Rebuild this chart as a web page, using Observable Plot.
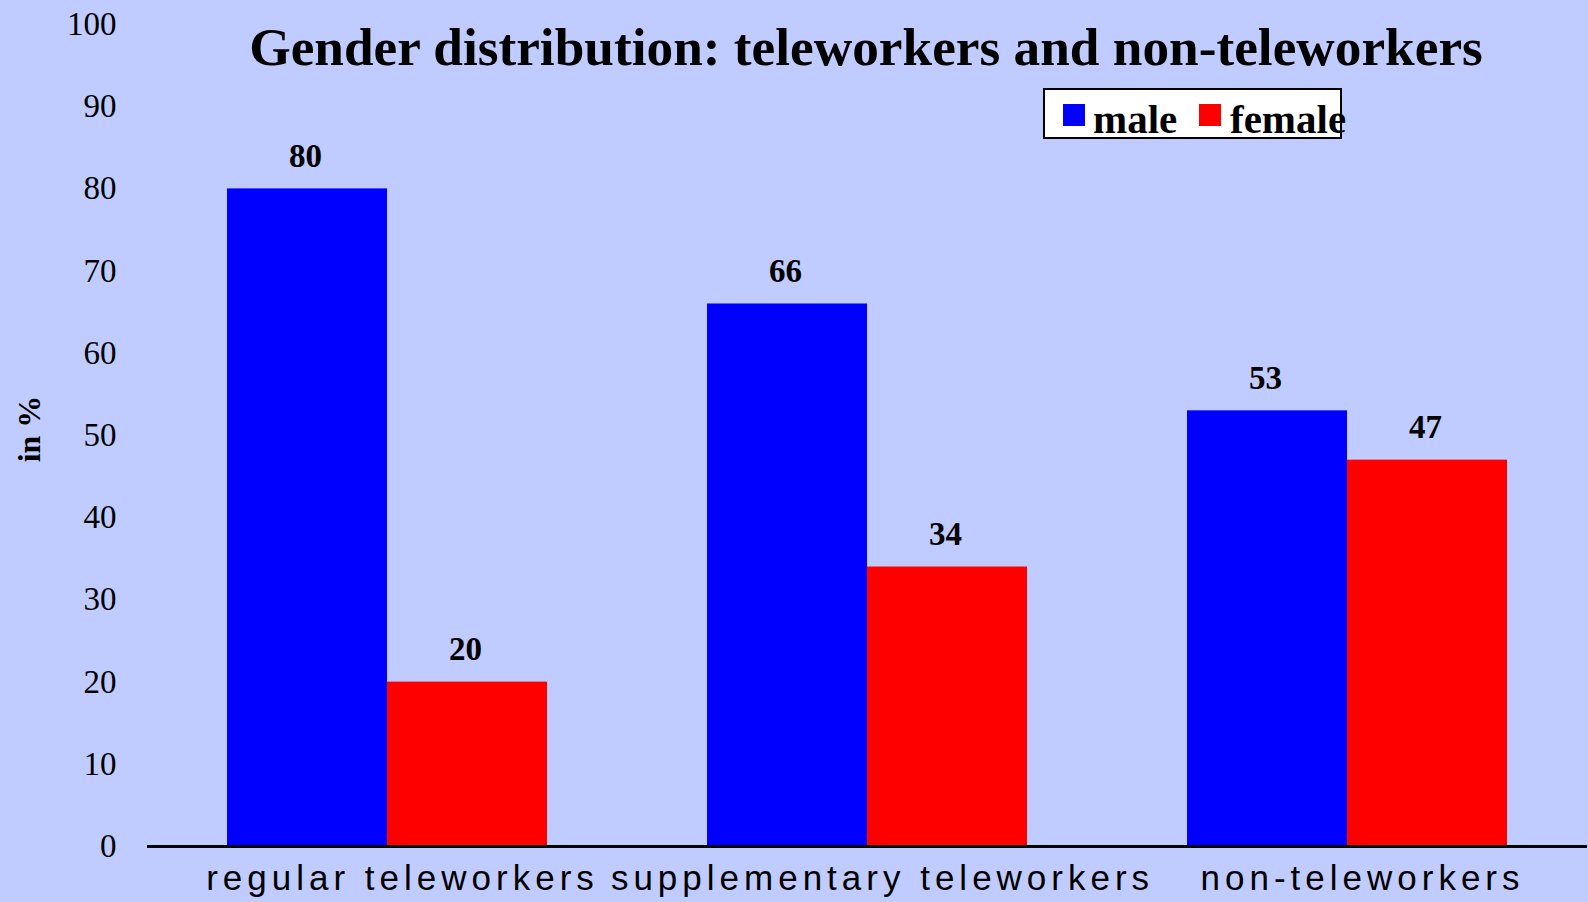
<!DOCTYPE html>
<html>
<head>
<meta charset="utf-8">
<script src="https://cdn.jsdelivr.net/npm/d3@7"></script>
<script src="https://cdn.jsdelivr.net/npm/@observablehq/plot@0.6"></script>
<style>
  html, body { margin: 0; padding: 0; background: #C0CCFF; }
  #wrap { position: relative; width: 1588px; height: 902px; background: #C0CCFF; overflow: hidden; }
  #wrap svg { position: absolute; left: 0; top: 0; }
  #title { position: absolute; left: 866px; top: 21px; transform: translateX(-50%); white-space: nowrap;
           font: bold 53.3px/1 "Liberation Serif", "Times New Roman", serif; color: #000; }
  #legend { position: absolute; left: 1043px; top: 88px; width: 299px; height: 51px; box-sizing: border-box;
            border: 2px solid #000; background: #fff; overflow: visible; }
  #legend .sw { position: absolute; top: 14px; width: 22px; height: 22px; }
  #legend .lb { position: absolute; top: 9px; white-space: nowrap;
                font: bold 41px/1 "Liberation Serif", "Times New Roman", serif; color: #000; }
  g[aria-label="fx-axis tick label"] text { letter-spacing: 5px; }
</style>
</head>
<body>
<div id="wrap"></div>
<script>
// ---- data ----
const categories = ["regular teleworkers", "supplementary teleworkers", "non-teleworkers"];
const genders = ["male", "female"];
const maleValues = [80, 66, 53];
const femaleValues = [20, 34, 47];
const genderColors = ["#0000FF", "#FF0000"];
const yTicks = [0, 10, 20, 30, 40, 50, 60, 70, 80, 90, 100];
const titleText = "Gender distribution: teleworkers and non-teleworkers";
const yLabel = "in %";

const table = [];
categories.forEach((c, i) => {
  table.push({category: c, gender: "male", value: maleValues[i]});
  table.push({category: c, gender: "female", value: femaleValues[i]});
});

const chart = Plot.plot({
  width: 1588,
  height: 902,
  marginLeft: 146,
  marginRight: 0,
  marginTop: 24,
  marginBottom: 56,
  style: {background: "transparent", color: "#000"},
  fx: {domain: categories, padding: 0, axis: null},
  x: {domain: genders, paddingInner: 0, paddingOuter: 0.5, axis: null},
  y: {domain: [0, 100], axis: null},
  color: {domain: genders, range: genderColors},
  marks: [
    Plot.barY(table, {fx: "category", x: "gender", y: "value", fill: "gender"}),
    Plot.ruleY([0], {stroke: "#000", strokeWidth: 3}),
    Plot.text(table, {fx: "category", x: "gender", y: "value", text: d => String(d.value),
      lineAnchor: "bottom", dy: -22, dx: -2, fontSize: 33, fontWeight: "bold",
      fontFamily: "Liberation Serif", fill: "#000"}),
    Plot.axisY({ticks: yTicks, tickSize: 0, tickPadding: 31, fontSize: 33,
      fontFamily: "Liberation Serif", tickFormat: d => String(d),
      label: null}),
    Plot.axisFx({domain: categories, anchor: "bottom", tickSize: 0, tickPadding: 19, fontSize: 35,
      fontFamily: "Liberation Sans, Arial, sans-serif", dx: 15, label: null})
  ]
});

const wrap = document.getElementById("wrap");
wrap.appendChild(chart);

// y-axis title (rotated) inside the SVG
const svgNS = "http://www.w3.org/2000/svg";
const yl = document.createElementNS(svgNS, "text");
yl.setAttribute("transform", "translate(40,429) rotate(-90)");
yl.setAttribute("text-anchor", "middle");
yl.setAttribute("font-family", "Liberation Serif");
yl.setAttribute("font-weight", "bold");
yl.setAttribute("font-size", "32");
yl.setAttribute("fill", "#000");
yl.textContent = yLabel;
chart.appendChild(yl);

// title
const t = document.createElement("div");
t.id = "title";
t.textContent = titleText;
wrap.appendChild(t);

// legend
const lg = document.createElement("div");
lg.id = "legend";
const swLeft = [18, 154];
const lbLeft = [48, 185];
genders.forEach((g, i) => {
  const sw = document.createElement("div");
  sw.className = "sw";
  sw.style.left = swLeft[i] + "px";
  sw.style.background = genderColors[i];
  lg.appendChild(sw);
  const lb = document.createElement("div");
  lb.className = "lb";
  lb.style.left = lbLeft[i] + "px";
  lb.textContent = g;
  lg.appendChild(lb);
});
wrap.appendChild(lg);
</script>
</body>
</html>
